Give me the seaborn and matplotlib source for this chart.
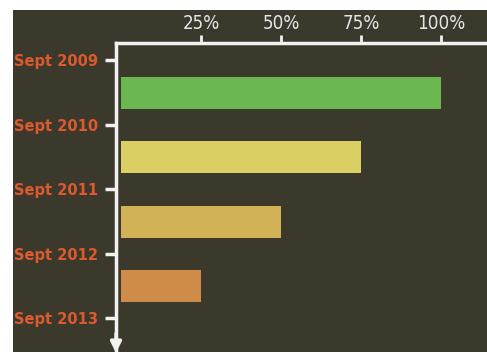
import matplotlib
matplotlib.use("Agg")
import numpy as np
import pandas as pd
import seaborn as sns
import matplotlib.pyplot as plt
from matplotlib.patches import Rectangle

# data
periods = ["2009-2010", "2010-2011", "2011-2012", "2012-2013"]
share = [100, 75, 50, 25]
bar_colors = ["#6cb850", "#d9cf63", "#d3b257", "#cf8c48"]
tick_labels = ["Sept 2009", "Sept 2010", "Sept 2011", "Sept 2012", "Sept 2013"]
pct_ticks = [25, 50, 75, 100]

BG = "#3b382c"
AXIS = "#f2f2f2"
LABEL_RED = "#dc5a2e"

sns.set_style("ticks")

fig = plt.figure(figsize=(4.87, 3.52), dpi=100, facecolor="white")
# dark panel (white margin on top and left in the reference)
fig.add_artist(Rectangle((13 / 487, 0), 1 - 13 / 487, 342 / 352,
                         transform=fig.transFigure, facecolor=BG,
                         edgecolor="none", zorder=-10))

ax = fig.add_axes([116 / 487, 0, 371 / 487, 309 / 352])
ax.set_facecolor(BG)
ax.patch.set_alpha(0)

df = pd.DataFrame({"period": periods, "share": share})
sns.barplot(data=df, x="share", y="period", hue="period", palette=bar_colors,
            orient="h", width=0.5, legend=False, saturation=1,
            linewidth=0, edgecolor="none", ax=ax, zorder=2)

ax.set_xlim(-1.6, 114.4)
ax.set_ylim(4.02, -0.77)

# percent axis on top
ax.xaxis.tick_top()
ax.set_xticks(pct_ticks, labels=[f"{t}%" for t in pct_ticks])
ax.tick_params(axis="x", colors=AXIS, length=6, width=2, pad=1.5,
               labelsize=13.5, labelcolor="#e6e6e6")
for lbl in ax.get_xticklabels():
    lbl.set_family(["Liberation Sans Narrow", "DejaVu Sans"])
    lbl.set_fontstretch("condensed")

# time axis on the left, ticks between the bars
ax.set_yticks(np.arange(len(tick_labels)) - 0.5, labels=tick_labels)
ax.tick_params(axis="y", colors=AXIS, length=8, width=2.5, pad=5,
               labelsize=10.5, labelcolor=LABEL_RED)
for lbl in ax.get_yticklabels():
    lbl.set_fontweight("bold")

ax.set_xlabel("")
ax.set_ylabel("")

for side in ["right", "bottom"]:
    ax.spines[side].set_visible(False)
for side in ["left", "top"]:
    ax.spines[side].set_color(AXIS)
    ax.spines[side].set_linewidth(2.5)
    ax.spines[side].set_zorder(3)
ax.spines["left"].set_bounds(4.0, -0.77)

# arrow head at the bottom of the time axis
ax.annotate("", xy=(0, -0.003), xytext=(0, 0.06), xycoords="axes fraction",
            arrowprops=dict(arrowstyle="-|>", color=AXIS, lw=2.5,
                            mutation_scale=16, shrinkA=0, shrinkB=0),
            annotation_clip=False)

plt.savefig("out.png", dpi=100, facecolor=fig.get_facecolor())
plt.close("all")
